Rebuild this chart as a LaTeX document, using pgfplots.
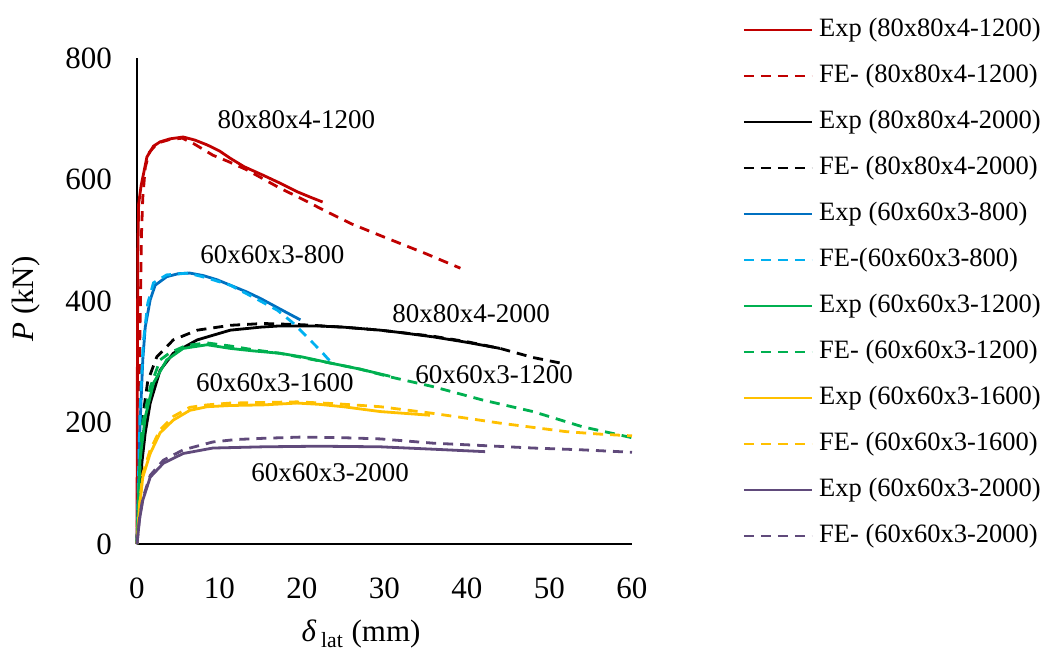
\documentclass[border=0pt]{standalone}
\usepackage{fontspec}
\setmainfont{Liberation Serif}
\usepackage{pgfplots}
\pgfplotsset{compat=1.18}
\definecolor{cred}{HTML}{C00000}
\definecolor{cblue}{HTML}{0070C0}
\definecolor{clblue}{HTML}{00B0F0}
\definecolor{cgreen}{HTML}{00B050}
\definecolor{cyellow}{HTML}{FFC000}
\definecolor{cpurple}{HTML}{604A7B}
\begin{document}
\begin{tikzpicture}
\path[use as bounding box] (-68.5pt,-53pt) rectangle (457.5pt,272pt);
\begin{axis}[
 scale only axis, width=247.5pt, height=243pt,
 xmin=0, xmax=60, ymin=0, ymax=800,
 axis lines=left, axis line style={-, line width=1pt, black},
 xtick={0,10,...,60}, ytick={0,200,...,800},
 major tick length=0pt,
 /pgf/number format/assume math mode=true,
 tick label style={font=\fontsize{15.5}{18}\selectfont},
 yticklabel style={xshift=-9pt},
 xticklabel style={yshift=-13.5pt},
 xlabel={{\itshape δ}\,\textsubscript{lat} (mm)},
 ylabel={{\itshape P} (kN)},
 label style={font=\fontsize{15.5}{18}\selectfont},
 xlabel style={at={(axis description cs:0.4525,-0.2016)}, anchor=base},
 ylabel style={at={(axis description cs:-0.21,0.504)}, anchor=base},
 legend style={draw=none, fill=none, at={(axis description cs:1.2223,1.0843)}, anchor=north west, inner sep=0pt,
   font=\fontsize{13.25}{16}\selectfont, row sep=10.5pt,
   nodes={inner sep=0pt, text height=9.5pt, text depth=3pt}},
 legend cell align=left,
 legend image code/.code={\draw[#1] (0pt,0pt) -- (34pt,0pt);},
 every axis plot/.append style={line width=1.4pt},
 dsh/.style={dash pattern=on 5pt off 3.5pt},
 clip=false,
]
\addplot[cred] coordinates {(0,0)(0.05,300)(0.1,480)(0.2,560)(0.5,590)(0.8,610)(1.2,637)(2,655)(2.8,662)(4,667)(5.6,670)(7,665)(8.5,657)(10,647)(11.3,635)(13,621)(15.3,607)(17.5,593)(19.4,580)(21,571)(22.5,563)};
\addlegendentry{\hspace*{3pt}Exp (80x80x4-1200)}
\addplot[cred, dsh] coordinates {(0,0)(0.15,120)(0.3,300)(0.45,430)(0.55,512)(0.7,570)(1.0,620)(1.5,645)(2.5,660)(4,666)(5.5,668)(7,658)(9.2,640)(11,630)(13.3,616)(15.3,601)(17.3,586)(20,568)(23,547)(26,527)(30,505)(35,478)(39.2,454)};
\addlegendentry{\hspace*{3pt}FE- (80x80x4-1200)}
\addplot[black] coordinates {(0,0)(0.3,80)(0.6,135)(1.0,183)(1.6,232)(2.8,286)(4.4,314)(7.3,336)(11.3,352)(15,357)(17.3,359)(21.8,359)(25,357)(29.5,352)(32,348)(35.9,341)(40,332)(44,322)};
\addlegendentry{\hspace*{3pt}Exp (80x80x4-2000)}
\addplot[black, dsh] coordinates {(0,0)(0.3,100)(0.7,209)(1.3,268)(2.4,308)(4.4,336)(7.3,352)(11.3,360)(15.3,363)(20,361)(25,357)(29.5,352)(35.9,342)(40,333)(44,322)(48,307)(51.3,298)};
\addlegendentry{\hspace*{3pt}FE- (80x80x4-2000)}
\addplot[cblue] coordinates {(0,0)(0.36,193)(0.7,303)(1.0,357)(1.6,402)(2.2,426)(3.6,440)(5,445)(6.4,446)(8,442)(9.7,435)(11.5,425)(13.3,415)(15,404)(16.5,393)(18,382)(19.8,369)};
\addlegendentry{\hspace*{3pt}Exp (60x60x3-800)}
\addplot[clblue, dsh] coordinates {(0,0)(0.2,120)(0.36,220)(0.75,330)(1.3,396)(2.0,430)(3.6,443)(6.2,446)(8.5,438)(11.3,426)(14,407)(17,385)(18.9,364)(20.6,341)(22.2,319)(23.6,298)};
\addlegendentry{\hspace*{3pt}FE-(60x60x3-800)}
\addplot[cgreen] coordinates {(0,0)(0.36,138)(1.0,209)(2.0,265)(3.6,303)(5.6,322)(8.5,328)(11.3,322)(14,318)(17.3,314)(20,308)(23.4,298)(27,288)(30.7,276)};
\addlegendentry{\hspace*{3pt}Exp (60x60x3-1200)}
\addplot[cgreen, dsh] coordinates {(0,0)(0.3,110)(0.6,193)(1.6,258)(2.8,303)(4,315)(6,327)(8.5,331)(11.3,326)(14,320)(17.3,314)(20,307)(23.4,298)(27,288)(30.7,275)(35.9,259)(41.9,237)(48,218)(54,193)(60,175)};
\addlegendentry{\hspace*{3pt}FE- (60x60x3-1200)}
\addplot[cyellow] coordinates {(0,0)(0.3,60)(0.7,110)(1.6,149)(2.8,183)(4.4,204)(6.4,220)(8.5,226)(11.3,228)(15.3,229)(19.4,232)(22,230)(25,226)(29.5,218)(35.5,212)};
\addlegendentry{\hspace*{3pt}Exp (60x60x3-1600)}
\addplot[cyellow, dsh] coordinates {(0,0)(0.3,65)(0.7,115)(1.6,155)(2.8,188)(4.4,210)(6.4,225)(8.5,229)(11.3,232)(15.3,233)(19.4,234)(24,231)(29.5,226)(35.9,215)(40,207)(44,199)(48,192)(52,185)(56,181)(60,178)};
\addlegendentry{\hspace*{3pt}FE- (60x60x3-1600)}
\addplot[cpurple] coordinates {(0,0)(0.3,40)(0.7,72)(1.6,110)(3.2,133)(5.6,149)(9.2,158)(15.3,160)(22,161)(29.5,160)(36,156)(42.2,152)};
\addlegendentry{\hspace*{3pt}Exp (60x60x3-2000)}
\addplot[cpurple, dsh] coordinates {(0,0)(0.3,42)(0.7,75)(1.6,113)(3.2,138)(5.6,155)(9.2,168)(12,172)(15.3,174)(19.8,176)(25,175)(29.5,173)(35.9,166)(42,162)(48,158)(54,155)(60,151)};
\addlegendentry{\hspace*{3pt}FE- (60x60x3-2000)}
\begin{scope}[font=\fontsize{13.5}{16}\selectfont]
\node at (axis cs:19.33,698) {80x80x4-1200};
\node at (axis cs:16.4,476) {60x60x3-800};
\node at (axis cs:40.5,380) {80x80x4-2000};
\node at (axis cs:43.3,278) {60x60x3-1200};
\node at (axis cs:16.7,265) {60x60x3-1600};
\node at (axis cs:23.4,117) {60x60x3-2000};
\end{scope}
\end{axis}
\end{tikzpicture}
\end{document}
